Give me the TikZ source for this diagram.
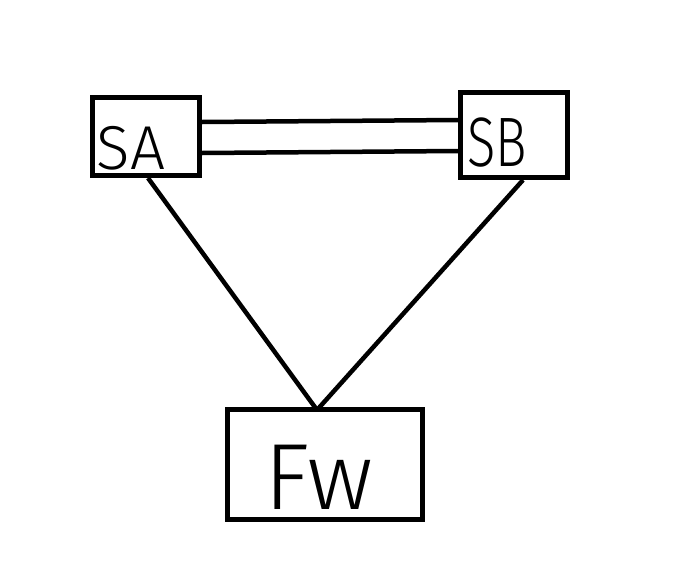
\documentclass[tikz,border=0pt]{standalone}
\usepackage{fontspec}
\newfontfamily\handfont{Fira Sans Light}
\usetikzlibrary{calc}
\tikzset{
    box/.style={rectangle, draw=black, line width=5pt, inner sep=0pt},
    link/.style={line width=4.5pt, draw=black},
    hand/.style={font=\handfont\fontsize{#1}{#1}\selectfont}
}
\begin{document}
\begin{tikzpicture}[x=1pt, y=-1pt]
    \useasboundingbox (0,0) rectangle (694,568);
    \node[box, minimum width=107pt, minimum height=78pt,
        label={[hand=62, xshift=-15pt, yshift=-11.5pt]center:SA}] (SA) at (146,136.5) {};
    \node[box, minimum width=107pt, minimum height=85pt,
        label={[hand=70, xscale=0.75, xshift=-22.5pt, yshift=-8pt]center:SB}] (SB) at (514,135) {};
    \node[box, minimum width=195pt, minimum height=110pt,
        label={[hand=94, xshift=-6pt, yshift=-13pt]center:Fw}] (Fw) at (325,464.5) {};
    % double link between the two S boxes
    \draw[link] ($(SA.east)+(0,-14.5)$) -- ($(SB.west)+(0,-15)$);
    \draw[link] ($(SA.east)+(0,16.5)$) -- ($(SB.west)+(0,16)$);
    % both meet at the top of Fw
    \draw[link] ($(SA.south)+(2,0)$) -- ($(Fw.north)+(-8,3)$);
    \draw[link] ($(SB.south)+(9,0)$) -- ($(Fw.north)+(-8,3)$);
\end{tikzpicture}
\end{document}
